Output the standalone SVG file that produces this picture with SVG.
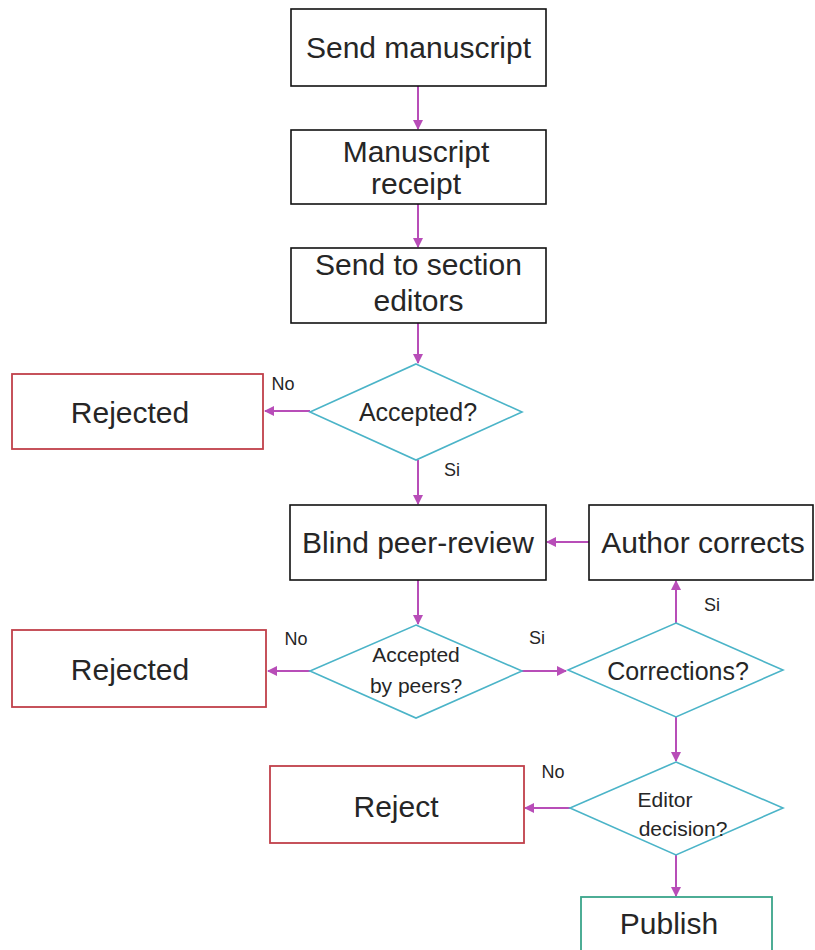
<svg xmlns="http://www.w3.org/2000/svg" width="815" height="950" viewBox="0 0 815 950">
<style>
text{font-family:"Liberation Sans",Arial,sans-serif;fill:#262626;text-anchor:middle}
.big{font-size:30px}
.mid{font-size:25px}
.sm{font-size:21px}
.lbl{font-size:18px}
.box{fill:#fff;stroke:#111;stroke-width:1.6}
.rej{fill:#fff;stroke:#c0404a;stroke-width:1.8}
.dia{fill:#fff;stroke:#4bb4c8;stroke-width:1.6}
.pub{fill:#fff;stroke:#3aa58a;stroke-width:1.8}
.con{stroke:#b84db8;stroke-width:2;fill:none;marker-end:url(#ah)}
</style>
<defs>
<marker id="ah" viewBox="0 0 10 10" refX="9" refY="5" markerWidth="5" markerHeight="5" orient="auto" markerUnits="strokeWidth">
<path d="M0,0 L10,5 L0,10 z" fill="#b84db8"/>
</marker>
</defs>
<rect width="815" height="950" fill="#fff"/>
<g id="connectors">
<line class="con" x1="418" y1="86" x2="418" y2="129"/>
<line class="con" x1="418" y1="204" x2="418" y2="247"/>
<line class="con" x1="418" y1="323" x2="418" y2="363"/>
<line class="con" x1="310" y1="411" x2="265" y2="411"/>
<line class="con" x1="418" y1="460" x2="418" y2="504"/>
<line class="con" x1="589" y1="542" x2="547" y2="542"/>
<line class="con" x1="418" y1="580" x2="418" y2="624"/>
<line class="con" x1="310" y1="671" x2="268" y2="671"/>
<line class="con" x1="522" y1="671" x2="566" y2="671"/>
<line class="con" x1="676" y1="623" x2="676" y2="581"/>
<line class="con" x1="676" y1="717" x2="676" y2="761"/>
<line class="con" x1="570" y1="808" x2="525" y2="808"/>
<line class="con" x1="676" y1="855" x2="676" y2="896"/>
</g>
<g id="labels">
<text class="lbl" x="283" y="390">No</text>
<text class="lbl" x="452" y="476">Si</text>
<text class="lbl" x="296" y="645">No</text>
<text class="lbl" x="537" y="644">Si</text>
<text class="lbl" x="712" y="611">Si</text>
<text class="lbl" x="553" y="778">No</text>
</g>
<g id="send-manuscript">
<rect class="box" x="291" y="9" width="255" height="77"/>
<text class="big" x="418.5" y="58">Send manuscript</text>
</g>
<g id="manuscript-receipt">
<rect class="box" x="291" y="130" width="255" height="74"/>
<text class="big" x="416" y="162">Manuscript</text>
<text class="big" x="416" y="194">receipt</text>
</g>
<g id="send-to-editors">
<rect class="box" x="291" y="248" width="255" height="75"/>
<text class="big" x="418.5" y="275">Send to section</text>
<text class="big" x="418.5" y="311">editors</text>
</g>
<g id="accepted">
<polygon class="dia" points="416,364 522,412 416,460 310,412"/>
<text class="mid" x="418" y="421">Accepted?</text>
</g>
<g id="rejected-1">
<rect class="rej" x="12" y="374" width="251" height="75"/>
<text class="big" x="130" y="423">Rejected</text>
</g>
<g id="blind-peer-review">
<rect class="box" x="290" y="505" width="256" height="75"/>
<text class="big" x="418" y="553">Blind peer-review</text>
</g>
<g id="author-corrects">
<rect class="box" x="589" y="505" width="224" height="75"/>
<text class="big" x="703" y="553">Author corrects</text>
</g>
<g id="accepted-by-peers">
<polygon class="dia" points="416,625 522,671 416,718 310,671"/>
<text class="sm" x="416" y="662">Accepted</text>
<text class="sm" x="416" y="693">by peers?</text>
</g>
<g id="rejected-2">
<rect class="rej" x="12" y="630" width="254" height="77"/>
<text class="big" x="130" y="680">Rejected</text>
</g>
<g id="corrections">
<polygon class="dia" points="676,623 783,670 676,717 568,670"/>
<text class="mid" x="678" y="680">Corrections?</text>
</g>
<g id="editor-decision">
<polygon class="dia" points="676,762 783,808 676,855 570,808"/>
<text class="sm" x="665" y="807">Editor</text>
<text class="sm" x="683" y="836">decision?</text>
</g>
<g id="reject">
<rect class="rej" x="270" y="766" width="254" height="77"/>
<text class="big" x="396" y="817">Reject</text>
</g>
<g id="publish">
<rect class="pub" x="581" y="897" width="191" height="60"/>
<text class="big" x="669" y="934">Publish</text>
</g>
</svg>
